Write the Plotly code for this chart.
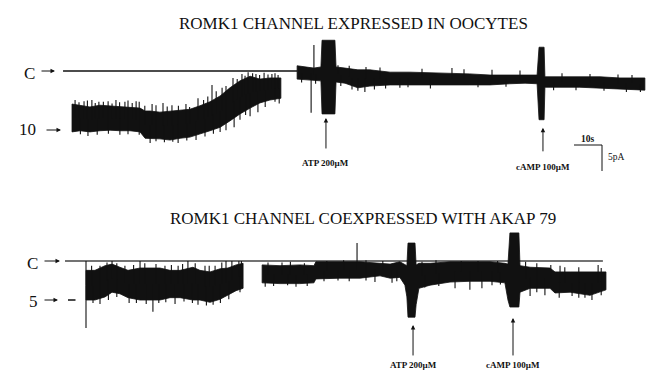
import numpy as np
import plotly.graph_objects as go

# ================= DATA =================
# Panel A: ROMK1 channel expressed in oocytes
# time in s, current level in open-channel units (0 = closed level "C", negative = open)
A1_t  = [0.0, 2.9, 6.4, 10.0, 13.6, 17.1, 20.7, 24.3, 26.1, 27.9, 31.4, 35.0, 38.6, 42.1,
         45.7, 49.3, 52.9, 56.4, 60.0, 63.6, 67.1, 70.7, 74.6]
A1_hi = [-5.7, -5.9, -6.2, -5.9, -6.0, -6.2, -6.2, -6.4, -6.9, -6.9, -7.1, -6.9, -6.7, -6.6,
         -6.0, -5.3, -4.3, -2.9, -1.7, -0.9, -1.4, -1.2, -1.2]
A1_lo = [-10.5, -10.3, -10.5, -10.3, -10.2, -10.3, -10.3, -10.5, -11.6, -11.7, -11.7, -11.9,
         -11.6, -11.4, -10.9, -10.3, -9.7, -8.6, -7.4, -6.4, -5.5, -5.0, -4.7]

A2_t  = [80.4, 83.2, 85.0, 86.4, 88.9, 89.3, 93.9, 94.3, 97.5, 102.1, 106.4, 113.6, 120.7,
         127.9, 135.0, 142.1, 149.3, 156.4, 161.8, 166.1, 166.8, 168.6, 168.9, 174.3, 181.4,
         188.6, 195.7, 204.6]
A2_hi = [0.9, 0.7, 0.7, 0.5, 0.7, 5.3, 5.3, 0.7, 0.5, 0.2, 0.2, -0.2, -0.2, -0.3, -0.3, -0.5,
         -0.7, -0.7, -0.7, -0.7, 4.1, 4.1, -1.0, -1.0, -1.0, -1.0, -1.2, -1.2]
A2_lo = [-1.4, -1.6, -1.6, -1.6, -1.7, -7.4, -7.4, -1.9, -2.1, -2.9, -2.6, -2.4, -2.4, -2.4,
         -2.4, -2.4, -2.4, -2.2, -2.1, -2.2, -8.4, -8.4, -2.8, -2.8, -2.8, -2.9, -3.1, -3.3]

# noise spikes read from the record: time (s) and tip level
A_spike_t   = [1.1, 4.3, 7.1, 9.6, 12.9, 15.7, 18.9, 22.9, 28.6, 32.5, 35.7, 40.7, 45.0, 50.0,
               53.6, 57.5, 60.7, 62.9, 65.7, 68.6, 71.4, 73.6,
               2.5, 5.5, 8.3, 11.2, 14.3, 17.0, 20.0, 21.5, 24.0, 26.0, 30.0, 34.0, 38.0,
               42.0, 47.0, 48.5, 51.5, 55.0, 59.0, 61.8, 64.5, 67.0, 70.0, 72.5,
               5.7, 17.1, 27.9, 37.9, 44.3, 52.9, 57.9, 63.6, 66.4, 72.5,
               3.0, 9.0, 13.0, 20.0, 24.0, 30.0, 33.0, 36.0, 41.0, 47.5, 50.5, 55.0, 60.0,
               62.0, 69.0, 74.0,
               85.4, 86.4, 102.1, 104.6, 117.1, 135.7,
               95.0, 99.0, 105.0, 110.0, 125.0, 140.0, 150.0, 160.0, 175.0, 185.0, 195.0, 200.0,
               82.0, 87.0, 96.0, 100.0, 108.0, 112.0, 120.0, 128.0, 145.0, 155.0, 172.0,
               180.0, 190.0, 198.0, 203.0]
A_spike_tip = [-5.0, -5.2, -5.0, -5.3, -5.2, -5.0, -5.3, -5.2, -5.7, -5.5, -5.9, -5.7, -4.7, -2.4,
               -2.9, -1.2, -0.5, -0.2, -0.5, -0.3, -0.5, -0.7,
               -5.4, -5.1, -5.5, -5.3, -5.6, -5.4, -5.1, -5.5, -5.3, -6.0, -5.9, -6.1, -6.0,
               -6.2, -5.0, -4.4, -3.5, -2.6, -1.4, -0.8, -0.4, -0.7, -0.6, -0.4,
               -11.2, -11.0, -12.4, -12.4, -11.9, -10.5, -9.7, -7.8, -7.1, -5.3,
               -10.9, -11.0, -10.8, -10.9, -11.0, -12.1, -12.3, -12.2, -12.0, -11.3, -10.8,
               -10.2, -8.4, -7.6, -6.2, -5.6,
               -7.2, 4.5, -3.4, -3.6, -2.9, 0.5,
               1.0, 0.9, 0.7, 0.6, 0.4, 0.3, 0.2, 0.1, -0.4, -0.5, -0.6, -0.7,
               -2.0, -2.2, -2.6, -3.2, -3.2, -3.0, -2.8, -3.0, -2.8, -2.7, -3.3,
               -3.3, -3.4, -3.6, -3.6]
A_closed_t = [-3.2, 80.4]

# Panel B: ROMK1 channel coexpressed with AKAP 79
B1_t  = [0.0, 3.2, 6.8, 9.3, 12.1, 15.0, 19.3, 22.9, 26.4, 30.0, 33.6, 38.2, 40.7, 44.3,
         47.9, 50.7, 53.6, 56.1]
B1_hi = [-1.2, -1.2, -0.6, -0.4, -0.8, -1.2, -0.9, -0.9, -0.9, -1.2, -1.2, -0.8, -1.2, -1.4,
         -1.0, -0.9, -0.5, -0.3]
B1_lo = [-5.0, -5.0, -4.6, -4.0, -4.2, -4.7, -5.0, -5.0, -5.0, -4.7, -4.7, -5.0, -5.0, -5.3,
         -4.9, -4.4, -3.8, -3.5]

B2_t  = [62.9, 69.3, 76.4, 81.4, 82.1, 90.7, 97.9, 105.0, 108.6, 112.1, 113.9, 114.6, 115.0,
         117.5, 117.9, 118.9, 122.9, 130.0, 137.1, 144.3, 149.6, 150.7, 151.4, 154.6, 155.0,
         158.6, 165.7, 167.5, 172.9, 180.0, 185.7]
B2_hi = [-0.5, -0.6, -0.5, -0.6, -0.1, -0.1, -0.1, -0.3, -0.4, -0.1, -0.4, -0.6, 2.3, 2.3,
         -0.5, -0.3, -0.3, -0.1, -0.1, -0.1, -0.3, -0.4, 3.6, 3.6, -0.6, -0.8, -0.9, -1.4,
         -1.4, -1.4, -1.4]
B2_lo = [-2.8, -2.9, -2.9, -2.8, -2.3, -2.2, -2.2, -1.9, -2.2, -2.1, -3.1, -4.6, -7.2, -7.2,
         -5.6, -3.5, -3.1, -2.7, -2.6, -2.6, -2.8, -5.0, -5.9, -5.9, -4.0, -3.5, -3.5, -4.1,
         -4.0, -4.4, -3.7]

B_spike_t   = [0.0, 0.0, 9.3, 19.3, 36.4, 50.0, 52.1, 54.6, 5.0, 13.9, 28.2, 32.9, 42.5, 46.1,
               2.0, 7.5, 11.0, 17.0, 21.0, 25.0, 30.5, 34.5, 39.0, 44.0, 48.5, 55.5,
               23.9, 5.0, 15.4, 31.8, 40.0, 45.4,
               2.5, 8.0, 11.0, 18.0, 21.5, 26.0, 28.5, 35.0, 38.0, 43.0, 48.0, 51.0, 55.0,
               96.8, 103.2, 109.3, 131.8, 137.1, 141.4, 158.6, 163.9, 173.6, 180.7, 178.2,
               169.3, 182.9,
               65.0, 70.0, 73.0, 78.0, 86.0, 92.0, 100.0, 106.0, 120.0, 125.0, 134.0, 140.0,
               147.0, 157.0, 161.0, 166.0, 171.0, 176.0, 184.0,
               64.0, 67.0, 72.0, 75.0, 79.0, 85.0, 90.0, 94.0, 100.0, 111.0, 121.0, 126.0,
               145.0, 148.0, 161.0, 169.0, 176.0, 184.0]
B_spike_tip = [0.0, -8.6, 0.0, 0.0, 0.0, 0.0, 0.0, 0.0, -0.6, -0.6, -0.6, -0.6, -0.6, -0.6,
               -0.6, -0.2, -0.3, -0.5, -0.3, -0.4, -0.5, -0.4, -0.3, -0.6, -0.2, 0.0,
               -6.5, -5.5, -5.4, -5.5, -5.6, -5.6,
               -5.4, -5.0, -4.6, -5.4, -5.5, -5.4, -5.3, -5.2, -5.4, -5.7, -5.4, -4.9, -4.0,
               2.3, -2.7, -2.8, -3.5, -3.7, -3.5, -4.5, -4.4, -4.5, -5.0, -4.7,
               -0.6, -0.5,
               -0.2, -0.2, -0.1, -0.3, 0.0, 0.1, 0.1, 0.0, -0.1, 0.1, 0.0, 0.0,
               0.0, -0.1, -0.3, -0.5, -0.8, -0.8, -0.9,
               -3.3, -3.2, -3.1, -3.3, -3.2, -2.6, -2.5, -2.6, -2.5, -2.6, -3.4, -3.2,
               -3.1, -3.0, -4.0, -4.7, -4.7, -4.4]
B_closed_t = [-7.5, 184.6]

# drug applications: label, time, level of arrow head
A_drugs = ["ATP 200\u00b5M", "cAMP 100\u00b5M"]
A_drug_t = [90.7, 168.2]
A_drug_tip = [-8.1, -9.8]
B_drugs = ["ATP 200\u00b5M", "cAMP 100\u00b5M"]
B_drug_t = [116.8, 152.5]
B_drug_tip = [-8.2, -7.3]

TITLE_A = "ROMK1 CHANNEL EXPRESSED IN OOCYTES"
TITLE_B = "ROMK1 CHANNEL COEXPRESSED WITH AKAP 79"
A_level_labels = ["C", "10"]
A_levels = [0, -10]
B_level_labels = ["C", "5"]
B_levels = [0, -5]
SCALE_S = 10
SCALE_PA = 5

# ================= LAYOUT CONSTANTS =================
W, H = 650, 370
FONT = "Liberation Serif, Times New Roman, serif"
# panel A mapping: px = 72 + 2.8 t ; py = 71 - 5.8 L
A_x0, A_py0, PX_S, A_PX_L = 72, 71, 2.8, 5.8
B_x0, B_py0, B_PX_L = 86, 261, 7.8
PX_PA = 5.2  # vertical scale bar size per pA

def xr(x0):
    return [-x0 / PX_S, (W - x0) / PX_S]

def yr(py0, s):
    return [(py0 - H) / s, py0 / s]

fig = go.Figure()
INK = "#111111"

def band(t, hi, lo, xa, ya):
    xs = list(t) + list(t)[::-1] + [t[0]]
    ys = list(hi) + list(lo)[::-1] + [hi[0]]
    fig.add_trace(go.Scatter(x=xs, y=ys, fill="toself", fillcolor=INK, mode="lines",
                             line=dict(color=INK, width=0.8), xaxis=xa, yaxis=ya,
                             hoverinfo="skip", showlegend=False))

def spikes(st, tip, segs, xa, ya):
    tt = np.concatenate([s[0] for s in segs])
    cc = np.concatenate([(np.array(s[1]) + np.array(s[2])) / 2 for s in segs])
    xs, ys = [], []
    for t, v in zip(st, tip):
        base = float(np.interp(t, tt, cc))
        xs += [t, t, None]
        ys += [base, v, None]
    fig.add_trace(go.Scatter(x=xs, y=ys, mode="lines", line=dict(color=INK, width=1.1),
                             xaxis=xa, yaxis=ya, hoverinfo="skip", showlegend=False))

# closed-level reference lines
fig.add_trace(go.Scatter(x=A_closed_t, y=[0, 0], mode="lines", line=dict(color=INK, width=1.3),
                         xaxis="x", yaxis="y", hoverinfo="skip", showlegend=False))
fig.add_trace(go.Scatter(x=B_closed_t, y=[0, 0], mode="lines", line=dict(color="#444444", width=1.3),
                         xaxis="x2", yaxis="y2", hoverinfo="skip", showlegend=False))

band(A1_t, A1_hi, A1_lo, "x", "y")
band(A2_t, A2_hi, A2_lo, "x", "y")
spikes(A_spike_t, A_spike_tip, [(A1_t, A1_hi, A1_lo), (A2_t, A2_hi, A2_lo)], "x", "y")
band(B1_t, B1_hi, B1_lo, "x2", "y2")
band(B2_t, B2_hi, B2_lo, "x2", "y2")
spikes(B_spike_t, B_spike_tip, [(B1_t, B1_hi, B1_lo), (B2_t, B2_hi, B2_lo)], "x2", "y2")

# scale bar (panel A coordinates)
sb_t0 = (574 - A_x0) / PX_S
sb_y0 = (A_py0 - 145) / A_PX_L
sb_dy = SCALE_PA * PX_PA / A_PX_L
fig.add_trace(go.Scatter(x=[sb_t0, sb_t0 + SCALE_S, sb_t0 + SCALE_S],
                         y=[sb_y0, sb_y0, sb_y0 - sb_dy], mode="lines",
                         line=dict(color=INK, width=1), xaxis="x", yaxis="y",
                         hoverinfo="skip", showlegend=False))

ann = []
def label(text, px, py, size=17, weight="normal"):
    ann.append(dict(text=text, x=px / W, y=1 - py / H, xref="paper", yref="paper",
                    showarrow=False, xanchor="center", yanchor="middle",
                    font=dict(family=FONT, size=size, color=INK, weight=weight)))

def parrow(px, py, dx):
    ann.append(dict(text="", x=px / W, y=1 - py / H, xref="paper", yref="paper",
                    showarrow=True, ax=dx, ay=0, arrowhead=2, arrowsize=0.9, arrowwidth=1,
                    arrowcolor=INK))

label(TITLE_A, 353, 23)
label(TITLE_B, 363, 218)
# level labels
label(A_level_labels[0], 29.5, 74)
label(A_level_labels[1], 27, 129)
label(B_level_labels[0], 32, 263)
label(B_level_labels[1], 33.5, 301)
parrow(55, A_py0 - A_levels[0] * A_PX_L, -15)
parrow(61, A_py0 - A_levels[1] * A_PX_L + 1, -16)
parrow(60, B_py0 - B_levels[0] * B_PX_L, -17)
parrow(58, B_py0 - B_levels[1] * B_PX_L, -15)
ann.append(dict(text="", x=68 / W, y=1 - 300 / H, xref="paper", yref="paper", showarrow=True,
                ax=9, ay=0, arrowhead=0, arrowwidth=1.3, arrowcolor=INK))

# drug arrows
for lab, t, tip, xa, ya, dy, ty in [
        (A_drugs[0], A_drug_t[0], A_drug_tip[0], "x", "y", 32, -15.9),
        (A_drugs[1], A_drug_t[1], A_drug_tip[1], "x", "y", 25, -16.6),
        (B_drugs[0], B_drug_t[0], B_drug_tip[0], "x2", "y2", 32, -13.3),
        (B_drugs[1], B_drug_t[1], B_drug_tip[1], "x2", "y2", 39, -13.3)]:
    ann.append(dict(text="", x=t, y=tip, xref=xa, yref=ya, showarrow=True, ax=0, ay=dy,
                    arrowhead=2, arrowsize=0.9, arrowwidth=1, arrowcolor=INK))
    ann.append(dict(text=lab, x=t, y=ty, xref=xa, yref=ya, showarrow=False,
                    xanchor="center", yanchor="middle",
                    font=dict(family=FONT, size=9, color=INK, weight="bold")))

# scale bar labels
label(f"{SCALE_S}s", 588, 139, size=9.5, weight="bold")
label(f"{SCALE_PA}pA", 616, 157, size=9.5)

axis_off = dict(visible=False, showgrid=False, zeroline=False, fixedrange=True)
fig.update_layout(
    width=W, height=H, margin=dict(l=0, r=0, t=0, b=0),
    paper_bgcolor="white", plot_bgcolor="white", showlegend=False, hovermode=False,
    xaxis=dict(range=xr(A_x0), domain=[0, 1], anchor="y", **axis_off),
    yaxis=dict(range=yr(A_py0, A_PX_L), domain=[0, 1], anchor="x", **axis_off),
    xaxis2=dict(range=xr(B_x0), domain=[0, 1], anchor="y2", overlaying="x", **axis_off),
    yaxis2=dict(range=yr(B_py0, B_PX_L), domain=[0, 1], anchor="x2", overlaying="y", **axis_off),
    annotations=ann,
)
fig.write_html("out.html", config={"displayModeBar": False},
               post_script="document.body.style.margin='0';document.body.style.overflow='hidden';")
